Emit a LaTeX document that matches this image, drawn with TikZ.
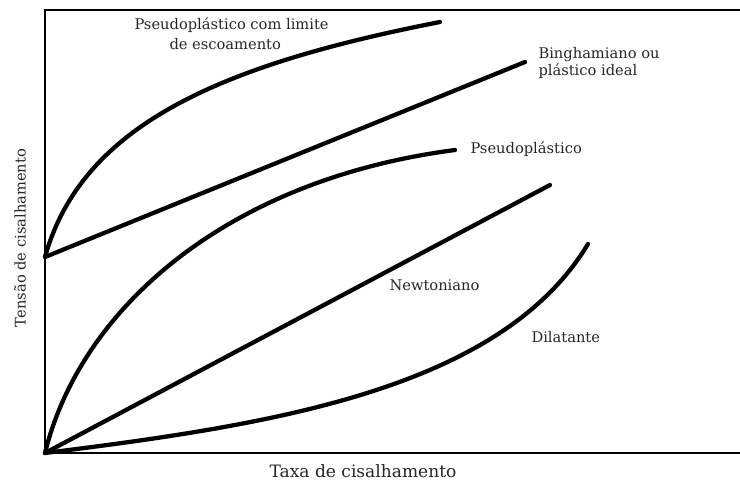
\documentclass[tikz,border=0pt]{standalone}
\usepackage{fontspec}
\setmainfont{DejaVu Serif}
\tikzset{every picture/.style={line width=0.75pt}}
\tikzset{
  axisline/.style={line width=1.5pt},
  curveline/.style={line width=3.2pt, line cap=round, line join=round},
  curvelabel/.style={inner sep=0.75pt, font=\fontsize{11}{13}\selectfont, text=black!85}
}

\begin{document}
\begin{tikzpicture}[x=0.75pt,y=0.75pt,yscale=-1,xscale=1]
\useasboundingbox (0,0) rectangle (740,482);

%Axes
\draw [axisline] (740,10) -- (45,10) -- (45,453) -- (740,453) ;

%Curve Lines: pseudoplastico com limite de escoamento
\draw [curveline] (45,257) .. controls (82,125) and (220,65) .. (440,22) ;
%Straight Lines: binghamiano
\draw [curveline] (45,257) -- (525,62) ;
%Curve Lines: pseudoplastico
\draw [curveline] (45,453) .. controls (80,310) and (225,180) .. (455,150) ;
%Straight Lines: newtoniano
\draw [curveline] (45,453) -- (550,185) ;
%Curve Lines: dilatante
\draw [curveline] (45,453) .. controls (270,425) and (500,390) .. (588,244) ;

% Text Node
\node (limite) [curvelabel, anchor=west] at (133,25) {Pseudoplástico com limite};
% Text Node
\node (escoamento) [curvelabel, anchor=west] at (168,44) {de escoamento};
% Text Node
\node (bingham) [curvelabel, anchor=west, align=left] at (537,63) {Binghamiano ou\\plástico ideal};
% Text Node
\node (pseudo) [curvelabel, anchor=west] at (469,149) {Pseudoplástico};
% Text Node
\node (newton) [curvelabel, anchor=west] at (388,285) {Newtoniano};
% Text Node
\node (dilat) [curvelabel, anchor=west] at (530,337) {Dilatante};
% Text Node
\node (taxa) [curvelabel, font=\fontsize{12.8}{15}\selectfont] at (363,471) {Taxa de cisalhamento};
% Text Node
\node (tensao) [curvelabel, rotate=90] at (20,238) {Tensão de cisalhamento};

\end{tikzpicture}
\end{document}
